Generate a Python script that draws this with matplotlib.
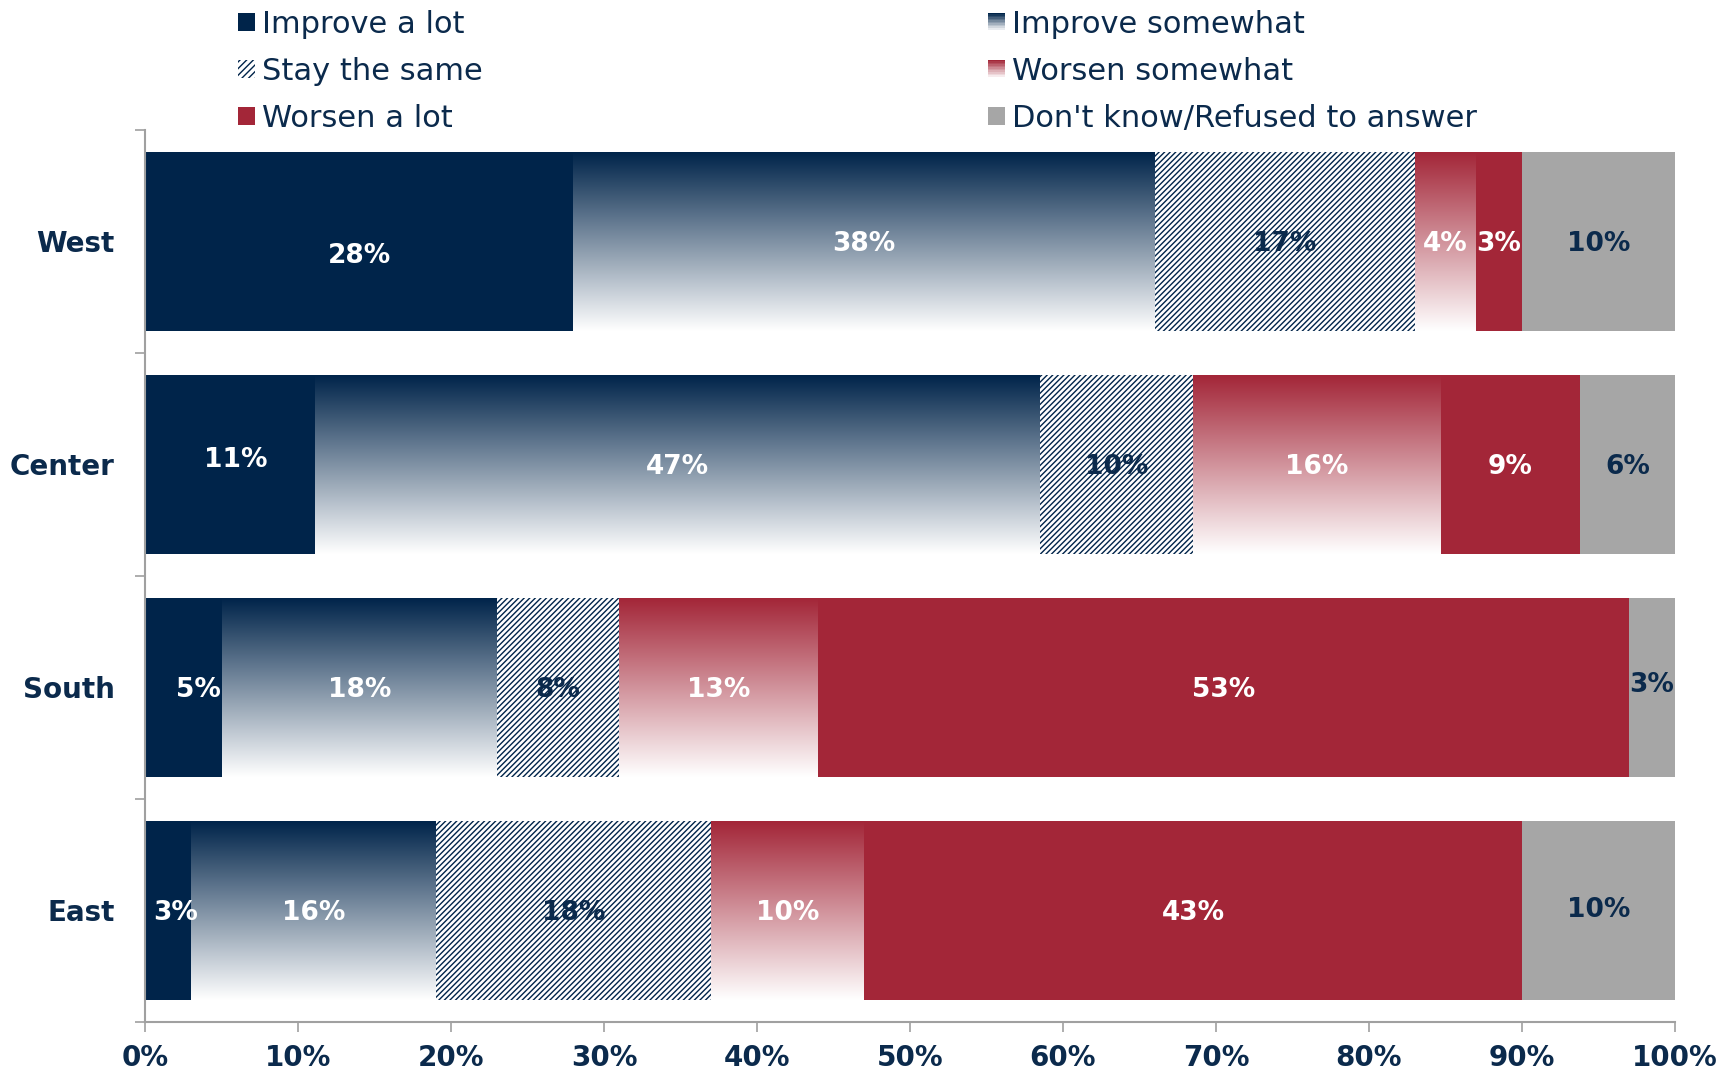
import matplotlib
matplotlib.use("Agg")
import matplotlib.pyplot as plt
import numpy as np
from matplotlib.colors import LinearSegmentedColormap
from matplotlib.legend_handler import HandlerBase
from matplotlib.patches import Rectangle
from matplotlib.ticker import FixedLocator, PercentFormatter

# Survey shares by region (percent of respondents)
regions = ["West", "Center", "South", "East"]
categories = ["Improve a lot", "Improve somewhat", "Stay the same",
              "Worsen somewhat", "Worsen a lot", "Don't know/Refused to answer"]
improve_lot = [28, 11.1, 5, 3]
improve_some = [38, 47.4, 18, 16]
stay_same = [17, 10.0, 8, 18]
worsen_some = [4, 16.2, 13, 10]
worsen_lot = [3, 9.1, 53, 43]
dont_know = [10, 6.2, 3, 10]

NAVY = "#00244A"
RED = "#A32638"
GRAY = "#A6A6A6"
TEXT = "#0B2A4C"

plt.rcParams["font.family"] = ["DejaVu Sans"]
plt.rcParams["hatch.linewidth"] = 1.0

navy_fade = LinearSegmentedColormap.from_list("navy_fade", [NAVY, "#FFFFFF"])
red_fade = LinearSegmentedColormap.from_list("red_fade", [RED, "#FFFFFF"])
grad = np.linspace(0.0, 1.0, 256).reshape(-1, 1)

# style per series: (kind, colour/cmap, label colour)
styles = [
    ("solid", NAVY, "white"),
    ("fade", navy_fade, "white"),
    ("hatch", NAVY, TEXT),
    ("fade", red_fade, "white"),
    ("solid", RED, "white"),
    ("solid", GRAY, TEXT),
]
series = [improve_lot, improve_some, stay_same, worsen_some, worsen_lot, dont_know]

# nudges for a few data labels (x in %, y in bar units)
label_nudge = {(0, 0): (0, 0.05), (1, 0): (0.4, -0.035), (2, 0): (1.0, 0),
               (3, 0): (0.5, 0), (2, 5): (0, -0.025), (3, 5): (0, -0.015)}

fig = plt.figure(figsize=(17.33, 10.78), dpi=100)
ax = fig.add_axes([0.0837, 0.052, 0.8828, 0.8274])

bar_h = 0.8
y = np.arange(len(regions))
left = np.zeros(len(regions))
for s, (vals, (kind, col, tcol)) in enumerate(zip(series, styles)):
    vals = np.asarray(vals, dtype=float)
    if kind == "solid":
        ax.barh(y, vals, left=left, height=bar_h, color=col, linewidth=0)
    elif kind == "hatch":
        ax.barh(y, vals, left=left, height=bar_h, color="white",
                edgecolor=col, hatch="//////", linewidth=0)
    else:
        for i in range(len(regions)):
            ax.imshow(grad, cmap=col, origin="upper", aspect="auto",
                      interpolation="bilinear",
                      extent=[left[i], left[i] + vals[i],
                              y[i] + bar_h / 2, y[i] - bar_h / 2])
    for i in range(len(regions)):
        dx, dy = label_nudge.get((i, s), (0, 0))
        ax.text(left[i] + vals[i] / 2 + dx, y[i] + dy, f"{vals[i]:.0f}%",
                ha="center", va="center_baseline", color=tcol, fontsize=19,
                fontweight="bold")
    left += vals

ax.set_xlim(0, 100)
ax.set_ylim(len(regions) - 0.5, -0.5)

ax.xaxis.set_major_locator(FixedLocator(np.arange(0, 101, 10)))
ax.xaxis.set_major_formatter(PercentFormatter(decimals=0))
ax.set_yticks(y)
ax.set_yticklabels(regions)
ax.yaxis.set_minor_locator(FixedLocator(np.arange(-0.5, len(regions), 1)))
ax.tick_params(axis="x", length=7, width=1.2, color="#A0A0A0", pad=9,
               labelsize=20, labelcolor=TEXT)
ax.tick_params(axis="y", which="major", length=0, pad=22,
               labelsize=20, labelcolor=TEXT)
ax.tick_params(axis="y", which="minor", length=7, width=1.2, color="#A0A0A0")
for lbl in ax.get_xticklabels() + ax.get_yticklabels():
    lbl.set_fontweight("bold")

for side in ("top", "right"):
    ax.spines[side].set_visible(False)
for side in ("left", "bottom"):
    ax.spines[side].set_color("#A0A0A0")
    ax.spines[side].set_linewidth(1.5)


class FadeHandler(HandlerBase):
    """Legend key drawn as horizontal stripes fading to white."""

    def __init__(self, cmap):
        super().__init__()
        self.cmap = cmap

    def create_artists(self, legend, orig_handle, xdescent, ydescent,
                       width, height, fontsize, trans):
        n = 12
        arts = []
        for k in range(n):
            frac = k / (n - 1)
            r = Rectangle((-xdescent, -ydescent + height * (1 - (k + 1) / n)),
                          width, height / n, facecolor=self.cmap(frac),
                          edgecolor="none", transform=trans)
            arts.append(r)
        return arts


h_lot = Rectangle((0, 0), 1, 1, facecolor=NAVY, edgecolor="none")
h_some = Rectangle((0, 0), 1, 1, facecolor="white", edgecolor="none")
h_same = Rectangle((0, 0), 1, 1, facecolor="white", edgecolor=NAVY,
                   hatch="/////", linewidth=0)
h_wsome = Rectangle((0, 0), 1, 1, facecolor="white", edgecolor="none")
h_wlot = Rectangle((0, 0), 1, 1, facecolor=RED, edgecolor="none")
h_dk = Rectangle((0, 0), 1, 1, facecolor=GRAY, edgecolor="none")

legend_kw = dict(frameon=False, fontsize=22, handlelength=0.55,
                 handleheight=0.55, handletextpad=0.25, labelspacing=0.59,
                 borderaxespad=0, borderpad=0, labelcolor=TEXT)
leg1 = fig.legend([h_lot, h_same, h_wlot],
                  [categories[0], categories[2], categories[4]],
                  loc="upper left", bbox_to_anchor=(0.1372, 0.991), **legend_kw)
leg2 = fig.legend([h_some, h_wsome, h_dk],
                  [categories[1], categories[3], categories[5]],
                  loc="upper left", bbox_to_anchor=(0.5700, 0.991),
                  handler_map={h_some: FadeHandler(navy_fade),
                               h_wsome: FadeHandler(red_fade)},
                  **legend_kw)

fig.savefig("out.png", dpi=100)
